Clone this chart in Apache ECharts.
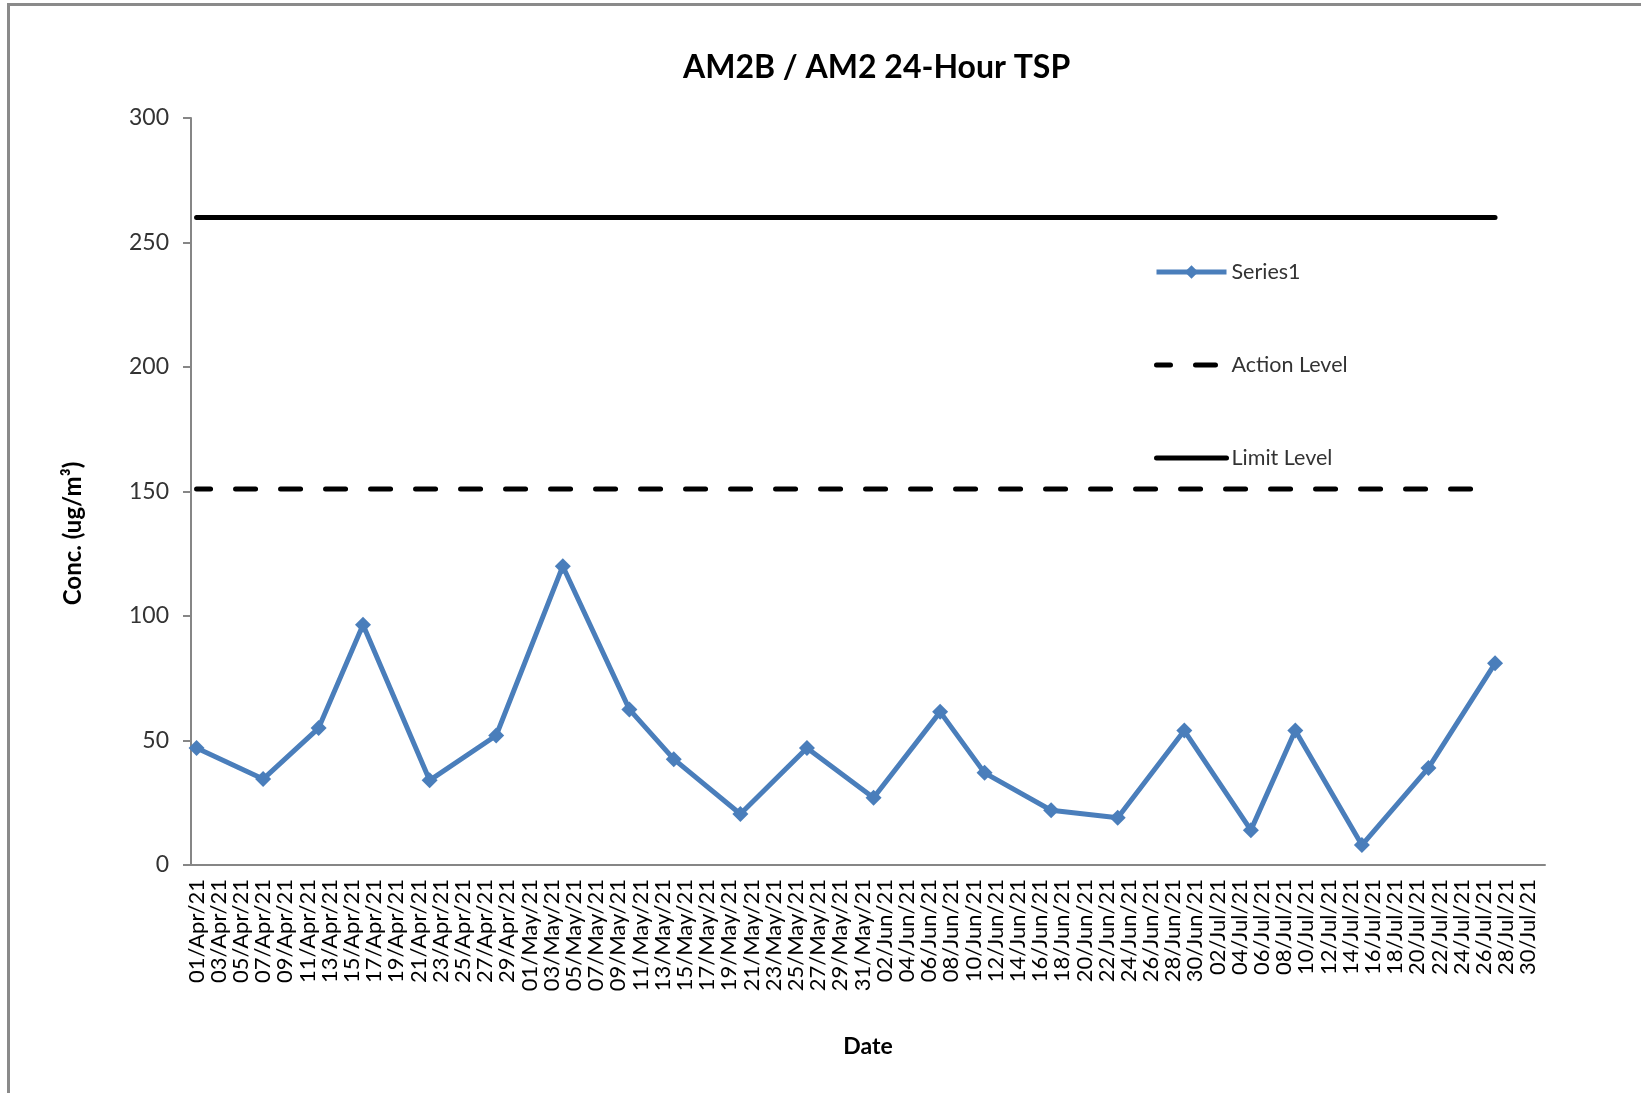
<!DOCTYPE html>
<html>
<head>
<meta charset="utf-8">
<script src="https://cdn.jsdelivr.net/npm/echarts@6/dist/echarts.min.js"></script>
<style>
    html, body { margin: 0; padding: 0; background: #fff; }
    #chart { position: absolute; left: 0; top: 0; width: 1641px; height: 1093px; }
    #frame { position: absolute; left: 7px; top: 3px; right: 0; bottom: 0; border-top: 3px solid #8a8a8a; border-left: 3px solid #8a8a8a; pointer-events: none; }
</style>
</head>
<body>
<div id="chart"></div>
<div id="frame"></div>
<script>
// sampling dates and 24-hour TSP values (ug/m3)
const sampleDates = ['01/Apr/21', '07/Apr/21', '12/Apr/21', '16/Apr/21', '22/Apr/21', '28/Apr/21',
    '04/May/21', '10/May/21', '14/May/21', '20/May/21', '26/May/21', '01/Jun/21',
    '07/Jun/21', '11/Jun/21', '17/Jun/21', '23/Jun/21', '29/Jun/21', '05/Jul/21',
    '09/Jul/21', '15/Jul/21', '21/Jul/21', '27/Jul/21'];
const tspValues = [47, 34.5, 55, 96.5, 34, 52, 120, 62.5, 42.5, 20.5, 47, 27,
    61.5, 37, 22, 19, 54, 14, 54, 8, 39, 81];
const actionLevel = 151;
const limitLevel = 260;

// date axis: every day from 01/Apr/21 to 31/Jul/21 (labels every 2nd day)
const monthNames = ['Jan', 'Feb', 'Mar', 'Apr', 'May', 'Jun', 'Jul', 'Aug', 'Sep', 'Oct', 'Nov', 'Dec'];
const axisDates = [];
for (let d = new Date(2021, 3, 1); d <= new Date(2021, 6, 31); d.setDate(d.getDate() + 1)) {
    const dd = String(d.getDate()).padStart(2, '0');
    axisDates.push(dd + '/' + monthNames[d.getMonth()] + '/21');
}

const font = 'Lato, "Open Sans", sans-serif';
const pairs = (vals) => sampleDates.map((dt, i) => [dt, Array.isArray(vals) ? vals[i] : vals]);

const myChart = echarts.init(document.getElementById('chart'));
myChart.setOption({
    animation: false,
    textStyle: { fontFamily: font },
    title: {
        text: 'AM2B / AM2 24-Hour TSP',
        left: 678, top: 47,
        textStyle: { fontFamily: font, fontSize: 32, fontWeight: 'bold', color: '#000' }
    },
    legend: {
        orient: 'vertical',
        left: 1149, top: 256,
        itemWidth: 70, itemHeight: 17, itemGap: 71,
        textStyle: { fontFamily: font, fontSize: 21.5, color: '#333' },
        data: [
            { name: 'Series1', lineStyle: { width: 5 } },
            { name: 'Action Level', lineStyle: { width: 5, type: [20, 25], cap: 'round' }, itemStyle: { opacity: 0 } },
            { name: 'Limit Level', lineStyle: { width: 5, cap: 'round' }, itemStyle: { opacity: 0 } }
        ]
    },
    grid: { left: 191, right: 96, top: 118, bottom: 228 },
    xAxis: {
        type: 'category',
        data: axisDates,
        boundaryGap: true,
        name: 'Date',
        nameLocation: 'middle',
        nameGap: 170,
        nameTextStyle: { fontFamily: font, fontSize: 23, fontWeight: 'bold', color: '#000' },
        axisLine: { lineStyle: { color: '#868686', width: 2 } },
        axisTick: { show: false },
        axisLabel: { interval: 1, rotate: 90, margin: 14, fontSize: 22, color: '#000', fontFamily: font }
    },
    yAxis: {
        type: 'value',
        min: 0, max: 300, interval: 50,
        name: 'Conc. (ug/m³)',
        nameLocation: 'middle',
        nameGap: 106,
        nameTextStyle: { fontFamily: font, fontSize: 24, fontWeight: 'bold', color: '#000', padding: [0, 84, 0, 0] },
        axisLine: { show: true, lineStyle: { color: '#868686', width: 2 } },
        axisTick: { show: true, length: 8, lineStyle: { color: '#868686', width: 2 } },
        axisLabel: { margin: 22, fontSize: 23, color: '#333', fontFamily: font },
        splitLine: { show: false }
    },
    series: [
        {
            name: 'Series1', type: 'line', data: pairs(tspValues),
            symbol: 'diamond', symbolSize: 16, showAllSymbol: true,
            lineStyle: { color: '#4a7ebb', width: 5 },
            itemStyle: { color: '#4a7ebb' }
        },
        {
            name: 'Action Level', type: 'line', data: pairs(actionLevel),
            symbol: 'none',
            lineStyle: { color: '#000', width: 5, type: [20, 25], dashOffset: 6, cap: 'round' },
            itemStyle: { color: '#000' }
        },
        {
            name: 'Limit Level', type: 'line', data: pairs(limitLevel),
            symbol: 'none',
            lineStyle: { color: '#000', width: 5, cap: 'round' },
            itemStyle: { color: '#000' }
        }
    ]
});
window.addEventListener('resize', () => myChart.resize());
</script>
</body>
</html>
